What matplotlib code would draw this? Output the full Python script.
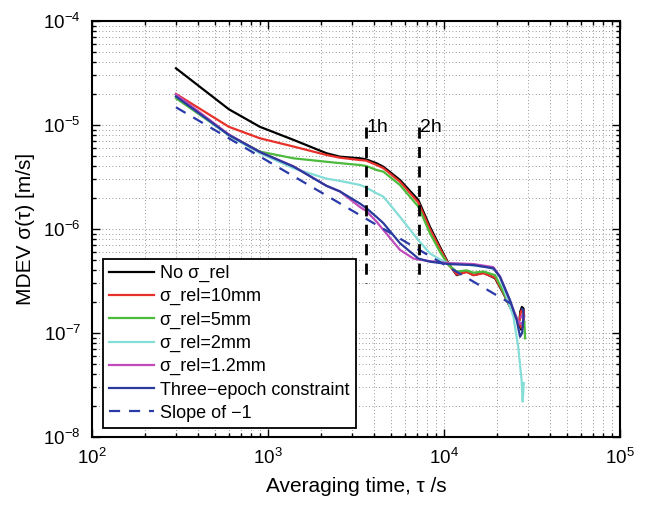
import matplotlib
matplotlib.use("Agg")
import matplotlib.pyplot as plt
from matplotlib.ticker import LogLocator, NullFormatter

plt.rcParams['font.family'] = ['Liberation Sans', 'DejaVu Sans']
plt.rcParams['mathtext.fontset'] = 'custom'
plt.rcParams['mathtext.rm'] = 'Liberation Sans'
plt.rcParams['mathtext.it'] = 'Liberation Sans:italic'
plt.rcParams['mathtext.bf'] = 'Liberation Sans:bold'

# ---------------- data ----------------
tau_black = [300, 600, 900, 1400, 2150, 2560, 3340, 3600, 4150, 4520, 5620, 7150, 8320, 9480,
             10590, 11810, 13460, 14700, 16760, 19500, 21730, 23700, 25600, 26700, 27400,
             28100, 28500, 28300, 27700, 27100, 26900]
mdev_black = [3.51e-5, 1.415e-5, 9.6e-6, 7.18e-6, 5.35e-6, 4.96e-6, 4.78e-6, 4.68e-6, 4.28e-6,
              3.97e-6, 2.96e-6, 1.9e-6, 1.05e-6, 6.76e-7, 4.68e-7, 3.6e-7, 3.9e-7, 3.6e-7,
              3.8e-7, 3.36e-7, 2.41e-7, 1.79e-7, 1.45e-7, 1.2e-7, 1.08e-7, 1.15e-7, 1.45e-7,
              1.72e-7, 1.78e-7, 1.6e-7, 1.35e-7]

tau_10mm = [300, 600, 900, 1400, 2150, 2560, 3340, 3600, 4150, 4520, 5620, 7150, 8320, 9480,
            10590, 11810, 13460, 14700, 16760, 19500, 21730, 23700, 25600, 26800, 27500,
            28200, 28500, 28300, 27700, 27200, 27000]
mdev_10mm = [1.99e-5, 9.6e-6, 7.45e-6, 6.2e-6, 5.15e-6, 4.85e-6, 4.6e-6, 4.55e-6, 4.12e-6,
             3.85e-6, 2.85e-6, 1.8e-6, 1.0e-6, 6.5e-7, 4.6e-7, 3.65e-7, 3.85e-7, 3.6e-7,
             3.75e-7, 3.4e-7, 2.45e-7, 1.8e-7, 1.45e-7, 1.22e-7, 1.12e-7, 1.2e-7, 1.45e-7,
             1.65e-7, 1.68e-7, 1.55e-7, 1.35e-7]

tau_5mm = [300, 600, 900, 1400, 2150, 2560, 3340, 3600, 4150, 4520, 5620, 7150, 8320, 9480,
           10590, 11810, 13460, 14700, 16760, 19500, 21730, 23700, 25600, 27000, 28000,
           28600, 28900]
mdev_5mm = [1.81e-5, 8.0e-6, 5.55e-6, 4.78e-6, 4.43e-6, 4.3e-6, 4.12e-6, 4.04e-6, 3.69e-6,
            3.56e-6, 2.65e-6, 1.64e-6, 9.1e-7, 6.05e-7, 4.5e-7, 3.9e-7, 4.0e-7, 3.8e-7,
            3.9e-7, 3.6e-7, 2.5e-7, 1.8e-7, 1.4e-7, 1.25e-7, 1.2e-7, 1.3e-7, 8.9e-8]

tau_2mm = [300, 600, 900, 1400, 2150, 2560, 3340, 3600, 4150, 4520, 5620, 7150, 8320, 9480,
           10590, 12880, 14700, 17490, 19500, 20800, 22000, 24780, 26400, 27600, 27990, 28400]
mdev_2mm = [1.9e-5, 7.9e-6, 5.35e-6, 3.83e-6, 3.05e-6, 2.9e-6, 2.65e-6, 2.51e-6, 2.2e-6,
            2.05e-6, 1.31e-6, 7.8e-7, 5.83e-7, 5.1e-7, 4.68e-7, 4.6e-7, 4.45e-7, 4.3e-7,
            4.1e-7, 3.4e-7, 2.6e-7, 1.44e-7, 7.4e-8, 3.5e-8, 2.19e-8, 3.3e-8]

tau_1p2mm = [300, 600, 900, 1400, 2150, 2560, 3340, 3600, 4150, 4520, 5620, 6700, 7150, 8320,
             10590, 14700, 19050, 20800, 23700, 25800, 27200, 28100, 28400, 28000, 27400]
mdev_1p2mm = [1.97e-5, 8.1e-6, 5.5e-6, 4.0e-6, 2.6e-6, 2.3e-6, 1.62e-6, 1.5e-6, 1.17e-6,
              9.8e-7, 6.3e-7, 5.2e-7, 5.1e-7, 4.9e-7, 4.7e-7, 4.6e-7, 4.3e-7, 3.5e-7, 2.05e-7,
              1.4e-7, 1.22e-7, 1.28e-7, 1.42e-7, 1.5e-7, 1.42e-7]

tau_three = [300, 600, 900, 1400, 2150, 2560, 3340, 3600, 4150, 4520, 5620, 7150, 8320, 10590,
             14700, 19050, 20800, 23700, 25880, 27050, 27800, 28300, 28200, 27800]
mdev_three = [1.88e-5, 8.0e-6, 5.5e-6, 3.97e-6, 2.6e-6, 2.3e-6, 1.75e-6, 1.6e-6, 1.3e-6,
              1.14e-6, 7.3e-7, 5.2e-7, 4.85e-7, 4.6e-7, 4.5e-7, 4.19e-7, 3.47e-7, 2.07e-7,
              1.33e-7, 9.2e-8, 1.0e-7, 1.44e-7, 1.65e-7, 1.7e-7]

tau_slope = [300, 24200]
mdev_slope = [1.48e-5, 1.9e-7]

tau_1h = [3600, 3600]
tau_2h = [7200, 7200]
vline_y = [9.5e-6, 3.0e-7]

labels = ['No σ_rel', 'σ_rel=10mm', 'σ_rel=5mm', 'σ_rel=2mm', 'σ_rel=1.2mm',
          'Three−epoch constraint', 'Slope of −1']

# ---------------- figure ----------------
fig = plt.figure(figsize=(6.46, 5.05), dpi=100)
ax = fig.add_axes([92/646, 68/505, 528/646, 416/505])

lw = 1.6
ax.plot(tau_black, mdev_black, color='#000000', lw=lw, label=labels[0])
ax.plot(tau_10mm, mdev_10mm, color='#e8302a', lw=lw, label=labels[1])
ax.plot(tau_5mm, mdev_5mm, color='#4cbb3c', lw=lw, label=labels[2])
ax.plot(tau_2mm, mdev_2mm, color='#84ddd6', lw=lw, label=labels[3])
ax.plot(tau_1p2mm, mdev_1p2mm, color='#c04cbc', lw=lw, label=labels[4])
ax.plot(tau_three, mdev_three, color='#2a3a9c', lw=lw, label=labels[5])
ax.plot(tau_slope, mdev_slope, color='#2a3aa8', lw=lw, ls=(0, (5, 4)), label=labels[6])

ax.plot(tau_1h, vline_y, color='black', lw=2.0, ls=(0, (4, 3)))
ax.plot(tau_2h, vline_y, color='black', lw=2.0, ls=(0, (4, 3)))
ax.text(3650, 9.5e-6, '1h', fontsize=14, va='center', ha='left')
ax.text(7300, 9.5e-6, '2h', fontsize=14, va='center', ha='left')

ax.set_xscale('log')
ax.set_yscale('log')
ax.set_xlim(1e2, 1e5)
ax.set_ylim(1e-8, 1e-4)

ax.xaxis.set_major_locator(LogLocator(base=10, numticks=10))
ax.yaxis.set_major_locator(LogLocator(base=10, numticks=10))
ax.xaxis.set_minor_locator(LogLocator(base=10, subs=range(2, 10), numticks=20))
ax.yaxis.set_minor_locator(LogLocator(base=10, subs=range(2, 10), numticks=20))
ax.xaxis.set_minor_formatter(NullFormatter())
ax.yaxis.set_minor_formatter(NullFormatter())

ax.grid(True, which='both', color='#777777', linestyle=(0, (1, 3)), lw=0.6)
ax.tick_params(which='both', direction='in', top=True, right=True, labelsize=13.5, width=1.0)
ax.tick_params(which='major', length=6, pad=8)
ax.tick_params(which='minor', length=3)
for s in ax.spines.values():
    s.set_linewidth(1.5)

ax.set_xlabel('Averaging time, τ /s', fontsize=15, labelpad=6)
ax.set_ylabel('MDEV σ(τ) [m/s]', fontsize=15, labelpad=6)

leg = ax.legend(loc='lower left', bbox_to_anchor=(0.0205, 0.0216), borderaxespad=0,
                fontsize=13, handlelength=2.5, handletextpad=0.3, labelspacing=0.34,
                borderpad=0.35, fancybox=False, framealpha=1, edgecolor='black')
leg.get_frame().set_linewidth(1.3)

fig.savefig('out.png', dpi=100)
